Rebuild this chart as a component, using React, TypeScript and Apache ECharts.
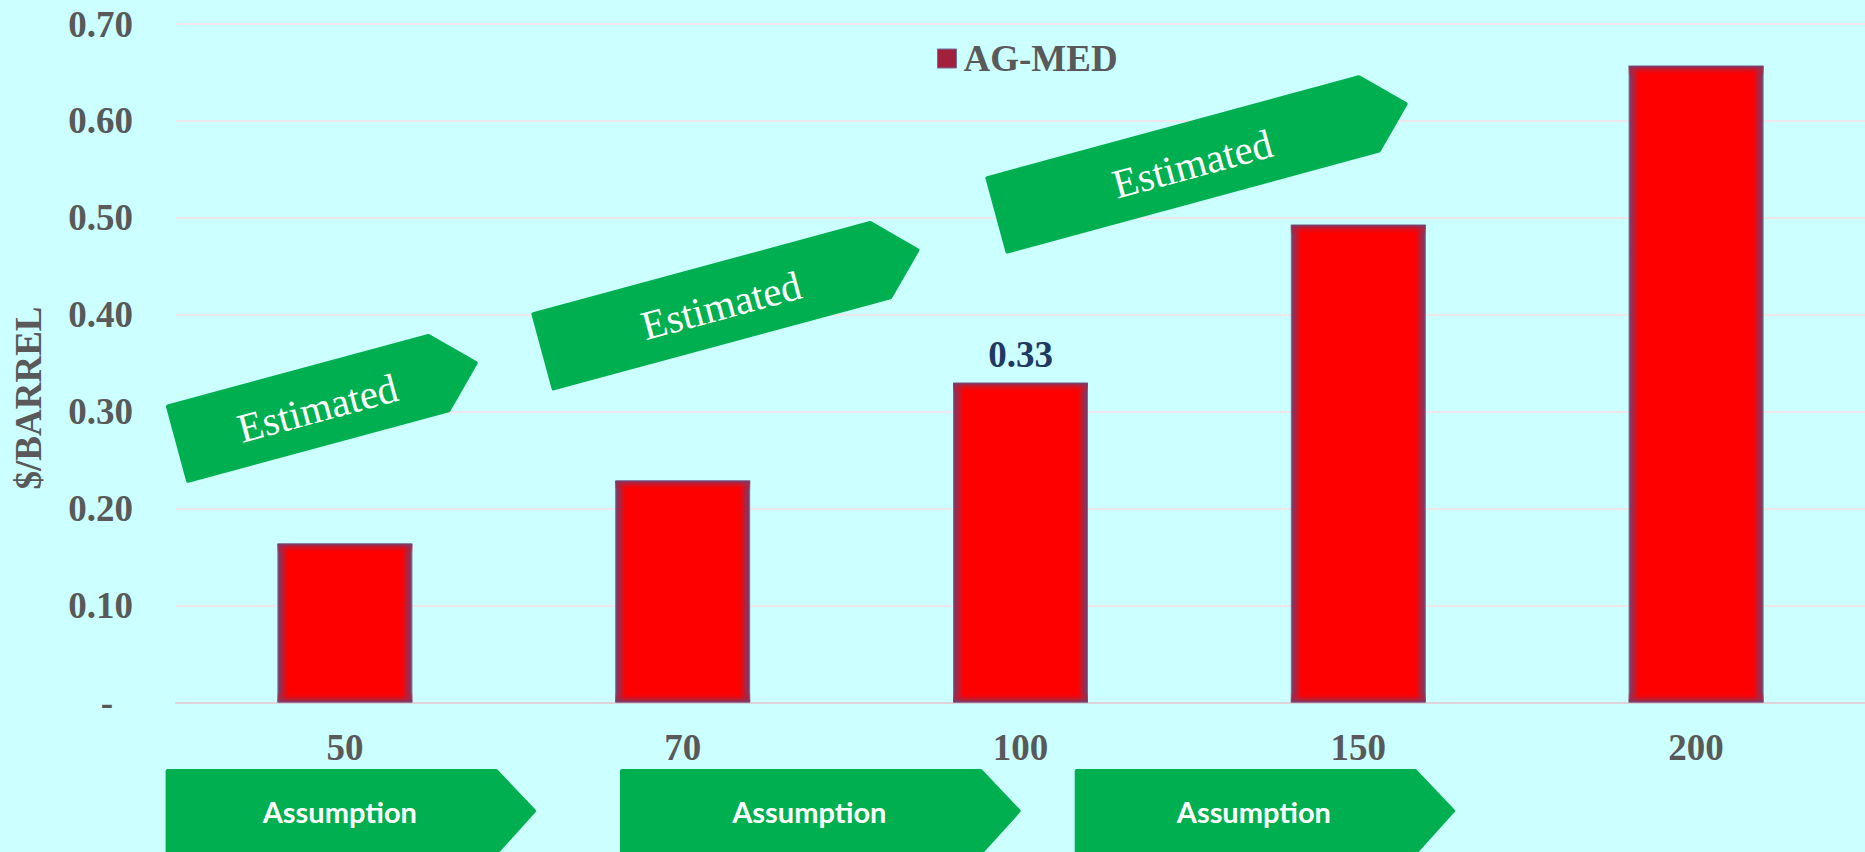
import React, { useEffect, useRef } from "react";
import * as echarts from "echarts";

// Route cost in $/barrel by category
const categories = ["50", "70", "100", "150", "200"];
const costPerBarrel = [0.164, 0.229, 0.33, 0.493, 0.657];
const seriesName = "AG-MED";
const labelledCategory = "100";

// Value axis ticks
const axisMin = 0;
const axisMax = 0.7;
const axisStep = 0.1;
const axisTitle = "$/BARREL";

// Callout banners
const estimatedText = "Estimated";
const assumptionText = "Assumption";
const estimatedBanners = [
  { x: 165.5, y: 405, length: 272, thick: 81, angle: 15.1 },
  { x: 531, y: 312.7, length: 351, thick: 81, angle: 15.1 },
  { x: 985, y: 176.7, length: 387, thick: 80, angle: 15.2 },
];
const assumptionBanners = [
  { x0: 165.6, x1: 496 },
  { x0: 620, x1: 980.6 },
  { x0: 1074.7, x1: 1415 },
];

const GREEN = "#00B050";
const GREY = "#595959";
const SERIF = "Liberation Serif";
const BAR_WIDTH = 135;
const EDGE = "rgba(112,62,112,1)";

function estimatedBanner(b: { x: number; y: number; length: number; thick: number; angle: number }) {
  const L = b.length;
  const T = b.thick;
  const tip = T / 2;
  return {
    type: "group",
    z: 50,
    x: b.x,
    y: b.y,
    rotation: (b.angle * Math.PI) / 180,
    children: [
      {
        type: "polygon",
        z: 50,
        shape: {
          points: [
            [2, 2],
            [L, 2],
            [L + tip - 2, T / 2],
            [L, T - 2],
            [2, T - 2],
          ],
        },
        style: { fill: GREEN, stroke: GREEN, lineWidth: 4, lineJoin: "round" },
      },
      {
        type: "text",
        z: 51,
        x: L / 2 + 10,
        y: T / 2 + 2,
        style: {
          text: estimatedText,
          fill: "#FFFFFF",
          fontFamily: SERIF,
          fontSize: 41,
          fontWeight: "normal",
          align: "center",
          verticalAlign: "middle",
        },
      },
    ],
  };
}

function assumptionBanner(b: { x0: number; x1: number }) {
  const top = 769;
  const mid = 811;
  const bottom = 853;
  return {
    type: "group",
    z: 50,
    children: [
      {
        type: "polygon",
        z: 50,
        shape: {
          points: [
            [b.x0 + 2, top + 2],
            [b.x1, top + 2],
            [b.x1 + 40 - 2, mid],
            [b.x1, bottom],
            [b.x0 + 2, bottom],
          ],
        },
        style: { fill: GREEN, stroke: GREEN, lineWidth: 4, lineJoin: "round" },
      },
      {
        type: "text",
        z: 51,
        x: (b.x0 + b.x1) / 2 + 9,
        y: mid,
        style: {
          text: assumptionText,
          fill: "#FFFFFF",
          fontFamily: "Lato",
          fontSize: 29,
          fontWeight: "bold",
          align: "center",
          verticalAlign: "middle",
        },
      },
    ],
  };
}

export default function App() {
  const ref = useRef<HTMLDivElement>(null);

  useEffect(() => {
    if (!ref.current) return;
    const chart = echarts.init(ref.current, null, { renderer: "svg" });

    const barData = costPerBarrel.map((v, i) =>
      categories[i] === labelledCategory
        ? {
            value: v,
            label: {
              show: true,
              position: "top",
              distance: 10,
              formatter: (p: any) => Number(p.value).toFixed(2),
              color: "#203864",
              fontFamily: SERIF,
              fontWeight: "bold",
              fontSize: 37,
            },
          }
        : v
    );

    const axisFont = {
      color: GREY,
      fontFamily: SERIF,
      fontWeight: "bold",
      fontSize: 37,
    };

    const option: any = {
      animation: false,
      backgroundColor: "#CCFFFF",
      grid: { left: 176, right: 0, top: 24, bottom: 149.5, containLabel: false },
      legend: {
        left: 932,
        top: 35,
        itemWidth: 19,
        itemHeight: 19,
        itemGap: 20,
        icon: "rect",
        data: [
          {
            name: seriesName,
            itemStyle: { color: "#A3203D", borderColor: "#7070A0", borderWidth: 1 },
          },
        ],
        textStyle: { ...axisFont, padding: [0, 0, 0, 2] },
      },
      xAxis: {
        type: "category",
        data: categories,
        axisTick: { show: false },
        axisLine: { lineStyle: { color: "#DCD4D8", width: 2 } },
        axisLabel: { ...axisFont, margin: 26 },
      },
      yAxis: {
        type: "value",
        min: axisMin,
        max: axisMax,
        interval: axisStep,
        axisLine: { show: false },
        axisTick: { show: false },
        splitLine: { lineStyle: { color: "#EEE8EC", width: 2 } },
        axisLabel: {
          ...axisFont,
          margin: 43,
          formatter: (v: number) => (v === 0 ? "{dash|-}" : v.toFixed(2)),
          rich: {
            dash: { ...axisFont, padding: [0, 20, 0, 0] },
          },
        },
      },
      series: [
        {
          name: seriesName,
          type: "bar",
          barWidth: BAR_WIDTH,
          data: barData,
          itemStyle: {
            color: new echarts.graphic.LinearGradient(0, 0, 1, 0, [
              { offset: 0, color: EDGE },
              { offset: 0.075, color: "#FF0000" },
              { offset: 0.925, color: "#FF0000" },
              { offset: 1, color: EDGE },
            ]),
            borderColor: "#7C6E90",
            borderWidth: 1,
          },
        },
        {
          // soft shading along the top and bottom edges of each bar
          type: "custom",
          silent: true,
          z: 3,
          data: costPerBarrel.map((v, i) => [i, v]),
          renderItem: (_params: any, api: any) => {
            const topPt = api.coord([api.value(0), api.value(1)]);
            const basePt = api.coord([api.value(0), 0]);
            const h = basePt[1] - topPt[1];
            const e = Math.min(10 / h, 0.5);
            return {
              type: "rect",
              shape: { x: topPt[0] - BAR_WIDTH / 2, y: topPt[1], width: BAR_WIDTH, height: h },
              style: {
                fill: new echarts.graphic.LinearGradient(0, 0, 0, 1, [
                  { offset: 0, color: "rgba(112,62,112,0.95)" },
                  { offset: e, color: "rgba(255,0,0,0)" },
                  { offset: 1 - e, color: "rgba(255,0,0,0)" },
                  { offset: 1, color: "rgba(112,62,112,0.95)" },
                ]),
              },
            };
          },
        },
      ],
      graphic: [
        {
          type: "text",
          x: 28,
          y: 398,
          z: 50,
          rotation: Math.PI / 2,
          style: {
            text: axisTitle,
            fill: GREY,
            fontFamily: SERIF,
            fontSize: 37,
            fontWeight: "bold",
            align: "center",
            verticalAlign: "middle",
          },
        },
        ...estimatedBanners.map(estimatedBanner),
        ...assumptionBanners.map(assumptionBanner),
      ],
    };

    chart.setOption(option);
    return () => chart.dispose();
  }, []);

  return (
    <div
      ref={ref}
      style={{ position: "fixed", left: 0, top: 0, width: 1865, height: 852 }}
    />
  );
}
